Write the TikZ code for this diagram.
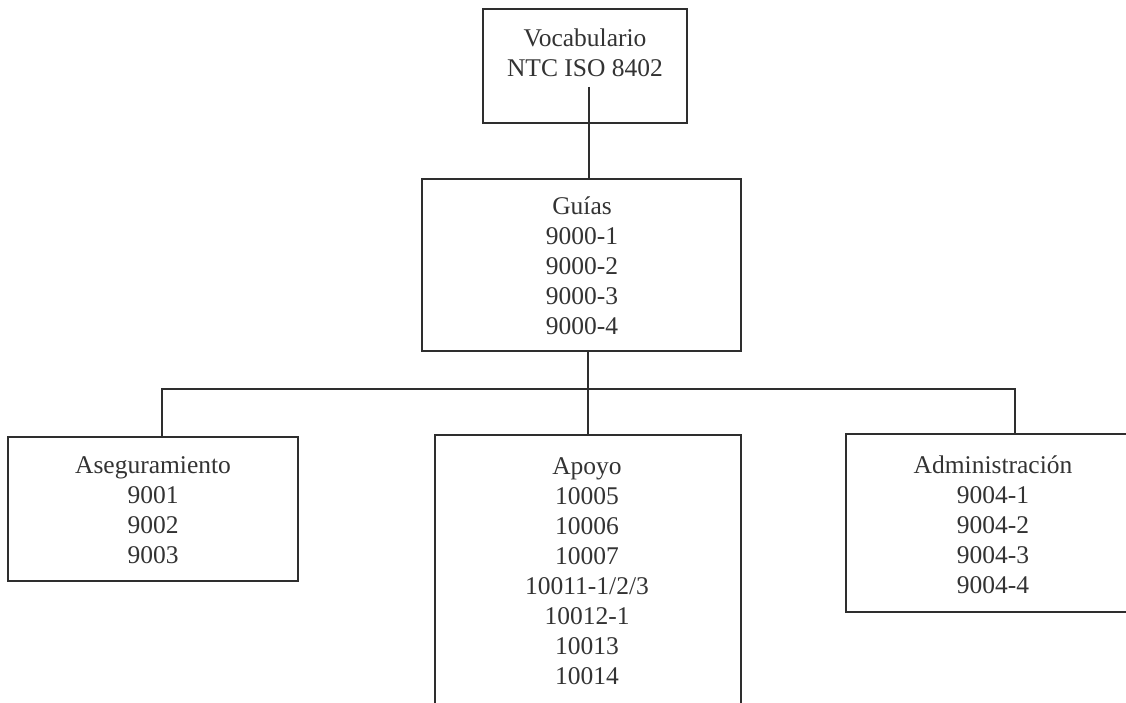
\documentclass[tikz,border=0pt]{standalone}
\usepackage{fontspec}
\setmainfont{Liberation Serif}
\definecolor{linecol}{HTML}{2E2E2E}
\definecolor{textcol}{HTML}{333333}
\begin{document}
\begin{tikzpicture}[x=1pt,y=-1pt,
  box/.style={draw=linecol, line width=1.5pt, rectangle, inner sep=0pt},
  lbl/.style={text=textcol, align=center, inner sep=0pt, font=\fontsize{25.5}{30}\selectfont},
  conn/.style={draw=linecol, line width=1.5pt}]
\useasboundingbox (0,0) rectangle (1126,703);
\clip (0,0) rectangle (1126,703);
\fill[white] (0,0) rectangle (1126,703);
% boxes
\node[box, minimum width=204pt, minimum height=114pt] (voc) at (585,66) {};
\node[box, minimum width=319pt, minimum height=172pt] (guias) at (581.5,265) {};
\node[box, minimum width=290pt, minimum height=144pt] (aseg) at (153,509) {};
\node[box, minimum width=306pt, minimum height=345pt] (apoyo) at (588,607.5) {};
\node[box, minimum width=294pt, minimum height=178pt] (admin) at (993,523) {};
% texts
\node[lbl] (tvoc) at (585,52.5) {Vocabulario\\NTC ISO 8402};
\node[lbl] (tguias) at (582,265.5) {Guías\\9000-1\\9000-2\\9000-3\\9000-4};
\node[lbl] (taseg) at (153,510) {Aseguramiento\\9001\\9002\\9003};
\node[lbl] (tapoyo) at (587,571) {Apoyo\\10005\\10006\\10007\\10011-1/2/3\\10012-1\\10013\\10014};
\node[lbl] (tadmin) at (993,524.5) {Administración\\9004-1\\9004-2\\9004-3\\9004-4};
% connectors
\coordinate (vocin) at (589,87);
\draw[conn] (vocin) -- (vocin |- guias.north);
\draw[conn] (guias.south -| apoyo.north) -- (apoyo.north);
\coordinate (barL) at (162,389);
\coordinate (barR) at (1015,389);
\draw[conn] (barL |- aseg.north) -- (barL) -- (barR) -- (barR |- admin.north);
\end{tikzpicture}
\end{document}
